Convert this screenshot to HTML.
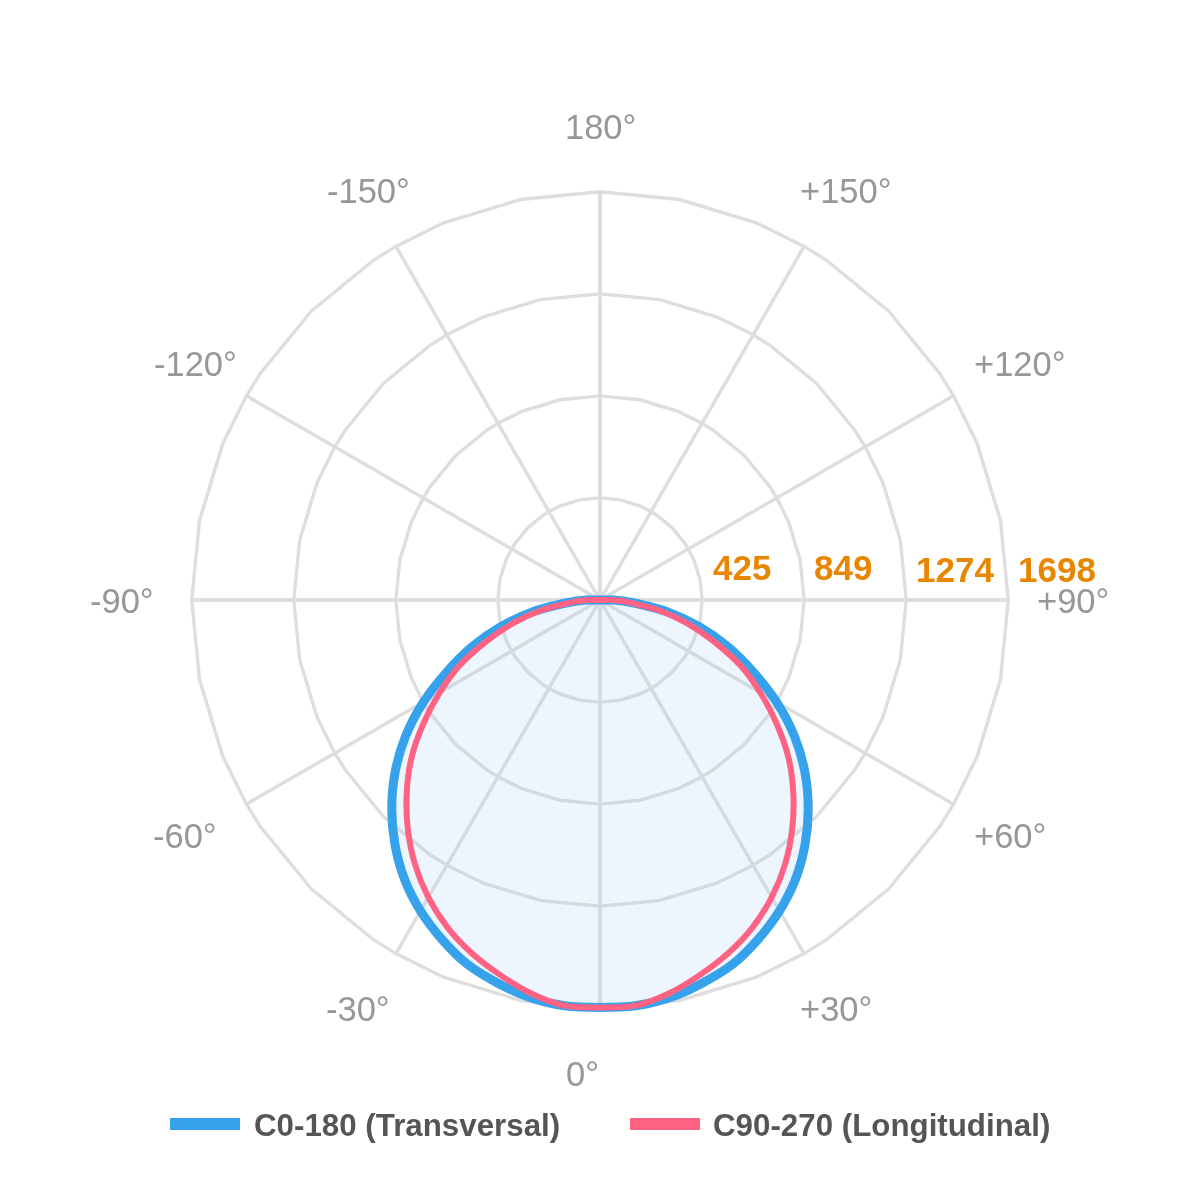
<!DOCTYPE html>
<html><head><meta charset="utf-8">
<style>
html,body{margin:0;padding:0;background:#fff;width:1200px;height:1200px;overflow:hidden;}
body{position:relative;font-family:"Liberation Sans",sans-serif;}
svg{position:absolute;left:0;top:0;}
.al,.tk,.lg{position:absolute;white-space:nowrap;line-height:0;height:0;will-change:transform;}
.al{font-size:34.5px;color:#979797;}
.al span,.tk span{display:block;}
.tk{font-size:35px;font-weight:bold;color:#e88600;}
.lg{font-size:31.3px;font-weight:bold;color:#555;}
.sw{position:absolute;height:12px;width:70px;}
</style></head><body>
<svg width="1200" height="1200" viewBox="0 0 1200 1200">
<polygon points="600.00,497.93 619.91,499.89 639.06,505.69 651.04,511.60 656.71,515.13 672.18,527.82 684.87,543.29 688.40,548.96 694.31,560.94 700.11,580.09 702.08,600.00 700.11,619.91 694.31,639.06 688.40,651.04 684.87,656.71 672.18,672.18 656.71,684.87 651.04,688.40 639.06,694.31 619.91,700.11 600.00,702.08 580.09,700.11 560.94,694.31 548.96,688.40 543.29,684.87 527.82,672.18 515.13,656.71 511.60,651.04 505.69,639.06 499.89,619.91 497.93,600.00 499.89,580.09 505.69,560.94 511.60,548.96 515.13,543.29 527.82,527.82 543.29,515.13 548.96,511.60 560.94,505.69 580.09,499.89" fill="none" stroke="#dedede" stroke-width="3.4" stroke-linejoin="miter"/>
<polygon points="600.00,395.85 639.83,399.77 678.12,411.39 702.08,423.20 713.42,430.26 744.36,455.64 769.74,486.58 776.80,497.92 788.61,521.88 800.23,560.17 804.15,600.00 800.23,639.83 788.61,678.12 776.80,702.07 769.74,713.42 744.36,744.36 713.42,769.74 702.08,776.80 678.12,788.61 639.83,800.23 600.00,804.15 560.17,800.23 521.88,788.61 497.92,776.80 486.58,769.74 455.64,744.36 430.26,713.42 423.20,702.08 411.39,678.12 399.77,639.83 395.85,600.00 399.77,560.17 411.39,521.88 423.20,497.92 430.26,486.58 455.64,455.64 486.58,430.26 497.92,423.20 521.88,411.39 560.17,399.77" fill="none" stroke="#dedede" stroke-width="3.4" stroke-linejoin="miter"/>
<polygon points="600.00,293.77 659.74,299.66 717.19,317.08 753.11,334.80 770.13,345.38 816.53,383.47 854.62,429.87 865.20,446.89 882.92,482.81 900.34,540.26 906.23,600.00 900.34,659.74 882.92,717.19 865.20,753.11 854.62,770.13 816.53,816.53 770.13,854.62 753.11,865.20 717.19,882.92 659.74,900.34 600.00,906.23 540.26,900.34 482.81,882.92 446.89,865.20 429.87,854.62 383.47,816.53 345.38,770.13 334.80,753.11 317.08,717.19 299.66,659.74 293.77,600.00 299.66,540.26 317.08,482.81 334.80,446.89 345.38,429.87 383.47,383.47 429.87,345.38 446.89,334.80 482.81,317.08 540.26,299.66" fill="none" stroke="#dedede" stroke-width="3.4" stroke-linejoin="miter"/>
<polygon points="600.00,191.70 679.66,199.55 756.25,222.78 804.15,246.40 826.84,260.51 888.71,311.29 939.49,373.16 953.60,395.85 977.22,443.75 1000.45,520.34 1008.30,600.00 1000.45,679.66 977.22,756.25 953.60,804.15 939.49,826.84 888.71,888.71 826.84,939.49 804.15,953.60 756.25,977.22 679.66,1000.45 600.00,1008.30 520.34,1000.45 443.75,977.22 395.85,953.60 373.16,939.49 311.29,888.71 260.51,826.84 246.40,804.15 222.78,756.25 199.55,679.66 191.70,600.00 199.55,520.34 222.78,443.75 246.40,395.85 260.51,373.16 311.29,311.29 373.16,260.51 395.85,246.40 443.75,222.78 520.34,199.55" fill="none" stroke="#dedede" stroke-width="3.4" stroke-linejoin="miter"/>
<line x1="600" y1="600" x2="600.00" y2="191.70" stroke="#dedede" stroke-width="4"/>
<line x1="600" y1="600" x2="804.15" y2="246.40" stroke="#dedede" stroke-width="3.5"/>
<line x1="600" y1="600" x2="953.60" y2="395.85" stroke="#dedede" stroke-width="3.5"/>
<line x1="600" y1="600" x2="1008.30" y2="600.00" stroke="#dedede" stroke-width="4"/>
<line x1="600" y1="600" x2="953.60" y2="804.15" stroke="#dedede" stroke-width="3.5"/>
<line x1="600" y1="600" x2="804.15" y2="953.60" stroke="#dedede" stroke-width="3.5"/>
<line x1="600" y1="600" x2="600.00" y2="1008.30" stroke="#dedede" stroke-width="4"/>
<line x1="600" y1="600" x2="395.85" y2="953.60" stroke="#dedede" stroke-width="3.5"/>
<line x1="600" y1="600" x2="246.40" y2="804.15" stroke="#dedede" stroke-width="3.5"/>
<line x1="600" y1="600" x2="191.70" y2="600.00" stroke="#dedede" stroke-width="4"/>
<line x1="600" y1="600" x2="246.40" y2="395.85" stroke="#dedede" stroke-width="3.5"/>
<line x1="600" y1="600" x2="395.85" y2="246.40" stroke="#dedede" stroke-width="3.5"/>
<path d="M614.00,600.00 C619.10,600.45 629.31,601.89 634.32,603.00 C642.71,604.87 659.53,608.98 667.60,611.92 C675.66,614.85 691.39,622.19 698.82,626.48 C706.30,630.79 720.61,640.79 727.25,646.31 C734.03,651.95 746.65,664.50 752.51,671.12 C758.95,678.39 771.20,693.72 776.45,701.88 C781.67,709.97 790.78,727.20 794.39,736.11 C797.88,744.71 803.10,762.78 804.85,771.89 C806.56,780.81 808.20,799.14 808.23,808.23 C808.26,817.27 806.66,835.50 805.07,844.39 C803.48,853.24 798.72,870.82 795.50,879.21 C792.34,887.46 784.21,903.46 779.54,910.97 C774.88,918.46 764.02,932.61 758.19,939.24 C752.29,945.94 739.60,958.83 732.61,964.33 C725.71,969.75 710.38,978.80 702.61,982.94 C694.76,987.12 678.50,994.72 670.10,997.58 C661.73,1000.44 644.27,1004.58 635.50,1005.82 C626.74,1007.06 608.88,1007.50 600.00,1007.50 C591.12,1007.50 573.26,1007.06 564.50,1005.82 C555.73,1004.58 538.27,1000.44 529.90,997.58 C521.50,994.72 505.24,987.12 497.39,982.94 C489.62,978.80 474.29,969.75 467.39,964.33 C460.40,958.83 447.71,945.94 441.81,939.24 C435.98,932.61 425.12,918.46 420.46,910.97 C415.79,903.46 407.66,887.46 404.50,879.21 C401.28,870.82 396.52,853.24 394.93,844.39 C393.34,835.50 391.74,817.27 391.77,808.23 C391.80,799.14 393.44,780.81 395.15,771.89 C396.90,762.78 402.12,744.71 405.61,736.11 C409.22,727.20 418.33,709.97 423.55,701.88 C428.80,693.72 441.05,678.39 447.49,671.12 C453.35,664.50 465.97,651.95 472.75,646.31 C479.39,640.79 493.70,630.79 501.18,626.48 C508.61,622.19 524.34,614.85 532.40,611.92 C540.47,608.98 557.29,604.87 565.68,603.00 C570.69,601.89 580.90,600.45 586.00,600.00 C589.48,599.70 596.50,600.00 600.00,600.00 C603.50,600.00 610.52,599.70 614.00,600.00 Z" fill="rgba(155,199,249,0.18)"/>
<path d="M614.00,600.00 C619.10,600.45 629.31,601.89 634.32,603.00 C642.71,604.87 659.53,608.98 667.60,611.92 C675.66,614.85 691.39,622.19 698.82,626.48 C706.30,630.79 720.61,640.79 727.25,646.31 C734.03,651.95 746.65,664.50 752.51,671.12 C758.95,678.39 771.20,693.72 776.45,701.88 C781.67,709.97 790.78,727.20 794.39,736.11 C797.88,744.71 803.10,762.78 804.85,771.89 C806.56,780.81 808.20,799.14 808.23,808.23 C808.26,817.27 806.66,835.50 805.07,844.39 C803.48,853.24 798.72,870.82 795.50,879.21 C792.34,887.46 784.21,903.46 779.54,910.97 C774.88,918.46 764.02,932.61 758.19,939.24 C752.29,945.94 739.60,958.83 732.61,964.33 C725.71,969.75 710.38,978.80 702.61,982.94 C694.76,987.12 678.50,994.72 670.10,997.58 C661.73,1000.44 644.27,1004.58 635.50,1005.82 C626.74,1007.06 608.88,1007.50 600.00,1007.50 C591.12,1007.50 573.26,1007.06 564.50,1005.82 C555.73,1004.58 538.27,1000.44 529.90,997.58 C521.50,994.72 505.24,987.12 497.39,982.94 C489.62,978.80 474.29,969.75 467.39,964.33 C460.40,958.83 447.71,945.94 441.81,939.24 C435.98,932.61 425.12,918.46 420.46,910.97 C415.79,903.46 407.66,887.46 404.50,879.21 C401.28,870.82 396.52,853.24 394.93,844.39 C393.34,835.50 391.74,817.27 391.77,808.23 C391.80,799.14 393.44,780.81 395.15,771.89 C396.90,762.78 402.12,744.71 405.61,736.11 C409.22,727.20 418.33,709.97 423.55,701.88 C428.80,693.72 441.05,678.39 447.49,671.12 C453.35,664.50 465.97,651.95 472.75,646.31 C479.39,640.79 493.70,630.79 501.18,626.48 C508.61,622.19 524.34,614.85 532.40,611.92 C540.47,608.98 557.29,604.87 565.68,603.00 C570.69,601.89 580.90,600.45 586.00,600.00 C589.48,599.70 596.50,600.00 600.00,600.00 C603.50,600.00 610.52,599.70 614.00,600.00 Z" fill="none" stroke="#36a2eb" stroke-width="9" stroke-linejoin="miter"/>
<path d="M614.00,600.00 C618.05,600.35 626.13,601.72 630.10,602.63 C637.49,604.34 652.33,607.90 659.44,610.48 C666.63,613.09 680.65,619.60 687.29,623.39 C694.21,627.33 707.44,636.43 713.69,641.38 C720.74,646.96 734.44,658.87 740.47,665.50 C746.08,671.66 755.83,685.43 760.24,692.51 C764.89,699.99 773.23,715.66 776.72,723.74 C780.32,732.10 786.51,749.43 788.62,758.27 C790.65,766.82 792.86,784.51 793.30,793.30 C793.75,802.20 793.21,820.19 792.18,829.03 C791.15,837.93 787.61,855.69 785.04,864.26 C782.49,872.77 775.74,889.45 771.67,897.35 C767.63,905.21 758.04,920.32 752.62,927.29 C747.24,934.22 734.97,947.05 728.46,952.95 C721.91,958.88 707.69,969.63 700.38,974.62 C692.91,979.70 677.47,989.35 669.34,993.24 C661.24,997.10 644.22,1003.82 635.49,1005.62 C626.88,1007.39 608.87,1007.50 600.00,1007.50 C591.13,1007.50 573.12,1007.39 564.51,1005.62 C555.78,1003.82 538.76,997.10 530.66,993.24 C522.53,989.35 507.09,979.70 499.62,974.62 C492.31,969.63 478.09,958.88 471.54,952.95 C465.03,947.05 452.76,934.22 447.38,927.29 C441.96,920.32 432.37,905.21 428.33,897.35 C424.26,889.45 417.51,872.77 414.96,864.26 C412.39,855.69 408.85,837.93 407.82,829.03 C406.79,820.19 406.25,802.20 406.70,793.30 C407.14,784.51 409.35,766.82 411.38,758.27 C413.49,749.43 419.68,732.10 423.28,723.74 C426.77,715.66 435.11,699.99 439.76,692.51 C444.17,685.43 453.92,671.66 459.53,665.50 C465.56,658.87 479.26,646.96 486.31,641.38 C492.56,636.43 505.79,627.33 512.71,623.39 C519.35,619.60 533.37,613.09 540.56,610.48 C547.67,607.90 562.51,604.34 569.90,602.63 C573.87,601.72 581.95,600.35 586.00,600.00 C589.48,599.70 596.50,600.00 600.00,600.00 C603.50,600.00 610.52,599.70 614.00,600.00 Z" fill="none" stroke="#ff6384" stroke-width="6" stroke-linejoin="miter"/>
</svg>
<div class="al" style="left:564.5px;top:127.0px">180°</div>
<div class="al" style="left:800.0px;top:190.9px">+150°</div>
<div class="al" style="left:327.0px;top:190.9px">-150°</div>
<div class="al" style="left:973.5px;top:363.8px">+120°</div>
<div class="al" style="left:154.0px;top:363.8px">-120°</div>
<div class="al" style="left:1037.0px;top:601.0px">+90°</div>
<div class="al" style="left:90.0px;top:601.0px">-90°</div>
<div class="al" style="left:973.5px;top:835.8px">+60°</div>
<div class="al" style="left:153.2px;top:835.8px">-60°</div>
<div class="al" style="left:800.2px;top:1009.2px">+30°</div>
<div class="al" style="left:326.0px;top:1009.2px">-30°</div>
<div class="al" style="left:565.5px;top:1073.5px">0°</div>
<div class="tk" style="left:713.0px;top:568.2px">425</div>
<div class="tk" style="left:814.0px;top:568.2px">849</div>
<div class="tk" style="left:916.0px;top:569.6px">1274</div>
<div class="tk" style="left:1018.0px;top:569.6px">1698</div>
<div class="sw" style="left:170px;top:1118px;background:#36a2eb"></div>
<div class="lg" style="left:254px;top:1125.5px">C0-180 (Transversal)</div>
<div class="sw" style="left:630px;top:1118px;background:#ff6384"></div>
<div class="lg" style="left:713px;top:1125.5px">C90-270 (Longitudinal)</div>
</body></html>
